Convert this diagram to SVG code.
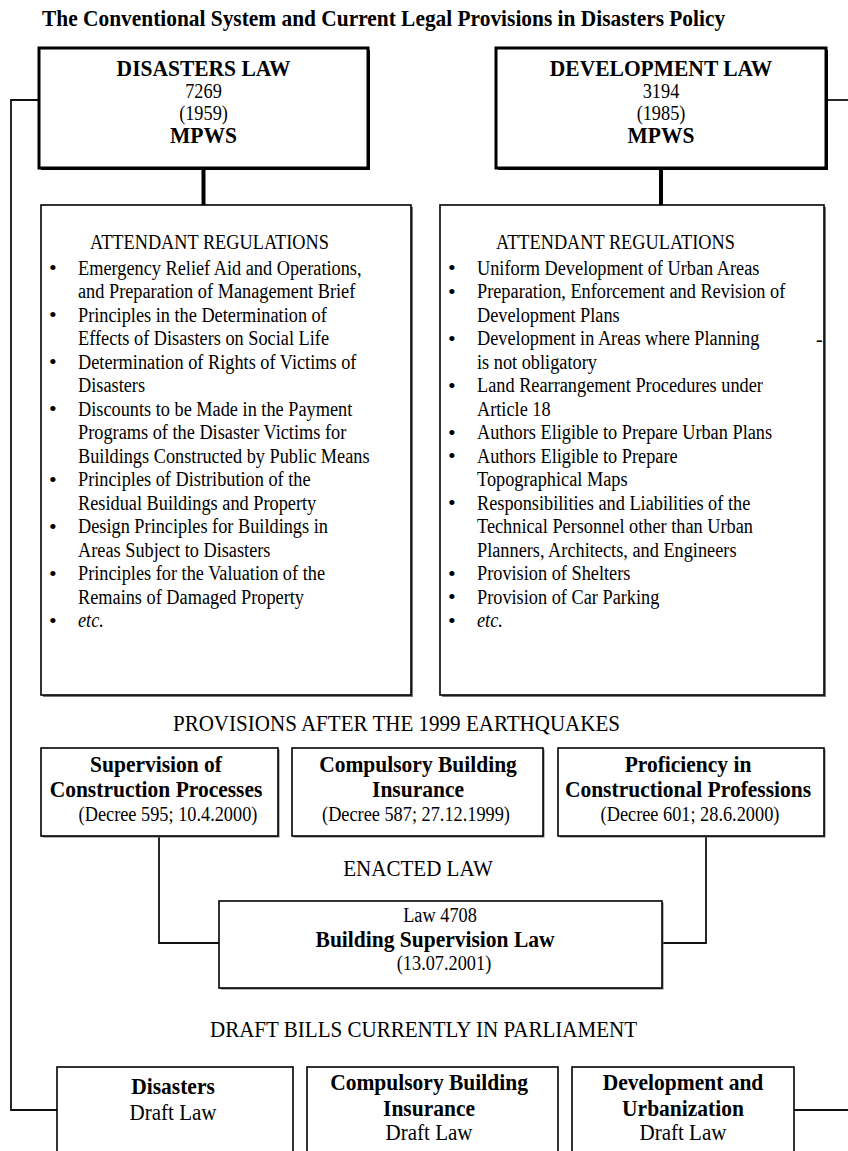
<svg xmlns="http://www.w3.org/2000/svg" width="848" height="1151" viewBox="0 0 848 1151">
<style>
text{font-family:"Liberation Serif","Times New Roman",serif;fill:#000}
.n{font-size:20px}
.h{font-size:23.5px;font-weight:bold}
.tt{font-size:23.4px;font-weight:bold}
.s{font-size:23px}
.i{font-style:italic}
.sq{transform:scale(.915,1);transform-box:fill-box;transform-origin:0 0}
.sqm{text-anchor:middle;transform:scale(.915,1);transform-box:fill-box;transform-origin:50% 0}
.bul{font-size:22px}
.bx3{fill:#fff;stroke:#000;stroke-width:3}
.shd{fill:#000}
.shg{fill:#777}
.bx{fill:#fff;stroke:#000;stroke-width:1.6}
.ct{stroke:#000;stroke-width:4;fill:none}
.cn{stroke:#111;stroke-width:1.8;fill:none}
</style>
<rect width="848" height="1151" fill="#fff"/>
<text class="tt sq" x="42" y="26">The Conventional System and Current Legal Provisions in Disasters Policy</text>

<g id="connectors">
<path class="ct" d="M203.5,169V205"/>
<path class="ct" d="M661,169V205"/>
<path class="cn" d="M39,100H11V1110H57"/>
<path class="cn" d="M826,100H848"/>
<path class="cn" d="M794,1110H848"/>
<path class="cn" d="M159,836V943H219"/>
<path class="cn" d="M706,836V943H662"/>
</g>

<g id="disasters-law">
<rect class="shd" x="41" y="50" width="329" height="120"/>
<rect class="bx3" x="39" y="48" width="329" height="120"/>
<text class="sqm" x="203.5"><tspan class="h" x="203.5" y="76">DISASTERS LAW</tspan><tspan class="n" x="203.5" y="98">7269</tspan><tspan class="n" x="203.5" y="120">(1959)</tspan><tspan class="h" x="203.5" y="143">MPWS</tspan></text>
</g>

<g id="development-law">
<rect class="shd" x="498" y="50" width="330" height="120"/>
<rect class="bx3" x="496" y="48" width="330" height="120"/>
<text class="sqm" x="661"><tspan class="h" x="661" y="76">DEVELOPMENT LAW</tspan><tspan class="n" x="661" y="98">3194</tspan><tspan class="n" x="661" y="120">(1985)</tspan><tspan class="h" x="661" y="143">MPWS</tspan></text>
</g>

<g id="disasters-regulations">
<rect class="shg" x="43" y="207" width="370" height="490"/>
<rect class="bx" x="41" y="205" width="370" height="490"/>
<text class="n sq" x="90" y="249">ATTENDANT REGULATIONS</text>
<text class="bul"><tspan x="49" y="275">•</tspan><tspan x="49" y="322">•</tspan><tspan x="49" y="369">•</tspan><tspan x="49" y="416">•</tspan><tspan x="49" y="486.5">•</tspan><tspan x="49" y="533.5">•</tspan><tspan x="49" y="580.5">•</tspan><tspan x="49" y="627.5">•</tspan></text>
<text class="n sq"><tspan x="78" y="275">Emergency Relief Aid and Operations,</tspan><tspan x="78" y="298.5">and Preparation of Management Brief</tspan><tspan x="78" y="322">Principles in the Determination of</tspan><tspan x="78" y="345.5">Effects of Disasters on Social Life</tspan><tspan x="78" y="369">Determination of Rights of Victims of</tspan><tspan x="78" y="392.5">Disasters</tspan><tspan x="78" y="416">Discounts to be Made in the Payment</tspan><tspan x="78" y="439.5">Programs of the Disaster Victims for</tspan><tspan x="78" y="463">Buildings Constructed by Public Means</tspan><tspan x="78" y="486.5">Principles of Distribution of the</tspan><tspan x="78" y="510">Residual Buildings and Property</tspan><tspan x="78" y="533.5">Design Principles for Buildings in</tspan><tspan x="78" y="557">Areas Subject to Disasters</tspan><tspan x="78" y="580.5">Principles for the Valuation of the</tspan><tspan x="78" y="604">Remains of Damaged Property</tspan><tspan class="i" x="78" y="627.5">etc.</tspan></text>
</g>

<g id="development-regulations">
<rect class="shg" x="442" y="207" width="384" height="490"/>
<rect class="bx" x="440" y="205" width="384" height="490"/>
<text class="n sq" x="496" y="249">ATTENDANT REGULATIONS</text>
<text class="bul"><tspan x="448" y="275">•</tspan><tspan x="448" y="298.5">•</tspan><tspan x="448" y="345.5">•</tspan><tspan x="448" y="392.5">•</tspan><tspan x="448" y="439.5">•</tspan><tspan x="448" y="463">•</tspan><tspan x="448" y="510">•</tspan><tspan x="448" y="580.5">•</tspan><tspan x="448" y="604">•</tspan><tspan x="448" y="627.5">•</tspan></text>
<text class="n sq"><tspan x="477" y="275">Uniform Development of Urban Areas</tspan><tspan x="477" y="298.5">Preparation, Enforcement and Revision of</tspan><tspan x="477" y="322">Development Plans</tspan><tspan x="477" y="345.5">Development in Areas where Planning</tspan><tspan x="477" y="369">is not obligatory</tspan><tspan x="477" y="392.5">Land Rearrangement Procedures under</tspan><tspan x="477" y="416">Article 18</tspan><tspan x="477" y="439.5">Authors Eligible to Prepare Urban Plans</tspan><tspan x="477" y="463">Authors Eligible to Prepare</tspan><tspan x="477" y="486.5">Topographical Maps</tspan><tspan x="477" y="510">Responsibilities and Liabilities of the</tspan><tspan x="477" y="533.5">Technical Personnel other than Urban</tspan><tspan x="477" y="557">Planners, Architects, and Engineers</tspan><tspan x="477" y="580.5">Provision of Shelters</tspan><tspan x="477" y="604">Provision of Car Parking</tspan><tspan class="i" x="477" y="627.5">etc.</tspan></text>
<text class="n" x="816" y="345.5">-</text>
</g>

<text id="label-provisions" class="s sqm" x="396.5" y="731">PROVISIONS AFTER THE 1999 EARTHQUAKES</text>

<g id="supervision">
<rect class="shg" x="42.5" y="749.5" width="237" height="88"/>
<rect class="bx" x="41" y="748" width="237" height="88"/>
<text class="sqm"><tspan class="h" x="156" y="772">Supervision of</tspan><tspan class="h" x="156" y="797">Construction Processes</tspan></text>
<text class="n sqm" x="168" y="821">(Decree 595; 10.4.2000)</text>
</g>

<g id="insurance">
<rect class="shg" x="293.5" y="749.5" width="251" height="88"/>
<rect class="bx" x="292" y="748" width="251" height="88"/>
<text class="sqm"><tspan class="h" x="418" y="772">Compulsory Building</tspan><tspan class="h" x="418" y="797">Insurance</tspan></text>
<text class="n sqm" x="416" y="821">(Decree 587; 27.12.1999)</text>
</g>

<g id="proficiency">
<rect class="shg" x="559.5" y="749.5" width="266" height="88"/>
<rect class="bx" x="558" y="748" width="266" height="88"/>
<text class="sqm"><tspan class="h" x="688" y="772">Proficiency in</tspan><tspan class="h" x="688" y="797">Constructional Professions</tspan></text>
<text class="n sqm" x="690" y="821">(Decree 601; 28.6.2000)</text>
</g>

<text id="label-enacted" class="s sqm" x="418" y="876">ENACTED LAW</text>

<g id="law-4708">
<rect class="shg" x="220.5" y="902.5" width="443" height="87"/>
<rect class="bx" x="219" y="901" width="443" height="87"/>
<text class="n sqm" x="440" y="922">Law 4708</text>
<text class="h sqm" x="435" y="947">Building Supervision Law</text>
<text class="n sqm" x="444" y="970">(13.07.2001)</text>
</g>

<text id="label-draft" class="s sqm" x="423.5" y="1037">DRAFT BILLS CURRENTLY IN PARLIAMENT</text>

<g id="draft-disasters">
<rect class="bx" x="57" y="1067" width="236" height="100"/>
<text class="h sqm" x="173" y="1094">Disasters</text>
<text class="s sqm" x="173" y="1120">Draft Law</text>
</g>

<g id="draft-insurance">
<rect class="bx" x="307" y="1067" width="251" height="100"/>
<text class="sqm"><tspan class="h" x="429" y="1090">Compulsory Building</tspan><tspan class="h" x="429" y="1116">Insurance</tspan></text>
<text class="s sqm" x="429" y="1140">Draft Law</text>
</g>

<g id="draft-development">
<rect class="bx" x="572" y="1067" width="222" height="100"/>
<text class="sqm"><tspan class="h" x="683" y="1090">Development and</tspan><tspan class="h" x="683" y="1116">Urbanization</tspan></text>
<text class="s sqm" x="683" y="1140">Draft Law</text>
</g>
</svg>
